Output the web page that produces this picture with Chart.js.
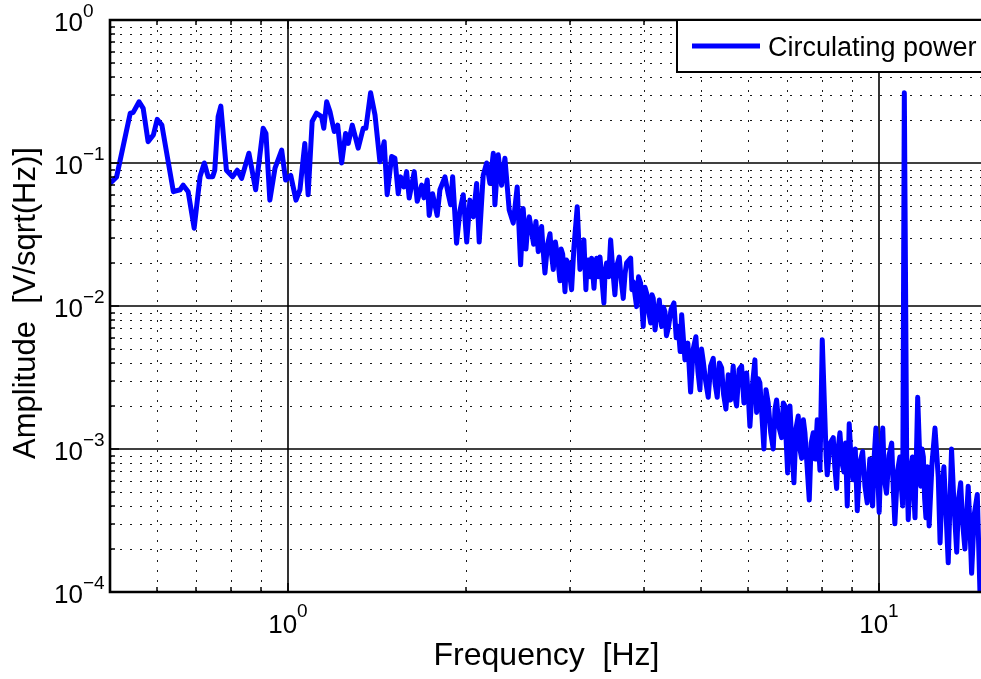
<!DOCTYPE html>
<html>
<head>
<meta charset="utf-8">
<title>Circulating power spectrum</title>
<script src="https://cdn.jsdelivr.net/npm/chart.js@4.4.1/dist/chart.umd.min.js"></script>
<style>
  html, body { margin: 0; padding: 0; background: #fff; overflow: hidden; }
  #wrap { position: absolute; left: 0; top: 0; width: 1000px; height: 679px; }
</style>
</head>
<body>
<div id="wrap"><canvas id="myChart" width="1000" height="679"></canvas></div>
<script>
// values
const seriesLabel = "Circulating power";
const xTitle = "Frequency  [Hz]";
const yTitle = "Amplitude  [V/sqrt(Hz)]";

const freqHz = [
  0.500, 0.513, 0.541, 0.547, 0.560, 0.569, 0.580, 0.592, 0.601, 0.612,
  0.640, 0.657, 0.665, 0.678, 0.694, 0.710, 0.722, 0.733, 0.746, 0.752,
  0.762, 0.770, 0.787, 0.806, 0.821, 0.835, 0.859, 0.882, 0.908, 0.918,
  0.932, 0.951, 0.976, 0.991, 1.011, 1.032, 1.048, 1.068, 1.082, 1.099,
  1.118, 1.140, 1.150, 1.163, 1.178, 1.198, 1.214, 1.233, 1.252, 1.265,
  1.285, 1.315, 1.341, 1.355, 1.380, 1.404, 1.431, 1.455, 1.472, 1.498,
  1.517, 1.537, 1.551, 1.571, 1.588, 1.604, 1.636, 1.655, 1.684, 1.699,
  1.721, 1.734, 1.757, 1.789, 1.808, 1.844, 1.867, 1.885, 1.900, 1.929,
  1.954, 1.980, 2.007, 2.032, 2.059, 2.086, 2.107, 2.140, 2.169, 2.197,
  2.226, 2.240, 2.269, 2.299, 2.329, 2.368, 2.406, 2.443, 2.476, 2.501,
  2.528, 2.545, 2.561, 2.585, 2.605, 2.628, 2.652, 2.670, 2.687, 2.700,
  2.722, 2.750, 2.776, 2.790, 2.812, 2.835, 2.860, 2.886, 2.900, 2.917,
  2.943, 2.960, 2.981, 3.000, 3.020, 3.048, 3.087, 3.120, 3.145, 3.168,
  3.193, 3.205, 3.222, 3.245, 3.265, 3.295, 3.310, 3.330, 3.350, 3.373,
  3.400, 3.425, 3.440, 3.461, 3.490, 3.516, 3.545, 3.575, 3.600, 3.636,
  3.665, 3.693, 3.720, 3.742, 3.801, 3.820, 3.840, 3.890, 3.920, 3.952,
  3.970, 3.992, 4.020, 4.045, 4.080, 4.110, 4.130, 4.151, 4.180, 4.206,
  4.250, 4.288, 4.320, 4.345, 4.370, 4.401, 4.450, 4.499, 4.540, 4.575,
  4.610, 4.637, 4.670, 4.697, 4.750, 4.801, 4.850, 4.901, 4.940, 4.979,
  5.010, 5.044, 5.090, 5.143, 5.190, 5.244, 5.280, 5.326, 5.370, 5.418,
  5.460, 5.510, 5.560, 5.610, 5.668, 5.700, 5.743, 5.800, 5.857, 5.910,
  5.971, 6.010, 6.049, 6.110, 6.168, 6.209, 6.250, 6.289, 6.340, 6.388,
  6.440, 6.496, 6.560, 6.625, 6.670, 6.712, 6.780, 6.845, 6.890, 6.934,
  6.970, 7.007, 7.040, 7.070, 7.120, 7.181, 7.240, 7.303, 7.350, 7.400,
  7.450, 7.496, 7.560, 7.623, 7.680, 7.742, 7.800, 7.864, 7.947, 8.019,
  8.103, 8.140, 8.176, 8.270, 8.370, 8.420, 8.481, 8.530, 8.590, 8.660,
  8.726, 8.780, 8.839, 8.907, 8.970, 9.047, 9.120, 9.191, 9.280, 9.385,
  9.470, 9.555, 9.650, 9.757, 9.820, 9.883, 9.950, 10.01, 10.08, 10.15,
  10.22, 10.30, 10.40, 10.51, 10.58, 10.64, 10.75, 10.85, 10.91, 10.97,
  11.04, 11.14, 11.21, 11.30, 11.40, 11.45, 11.51, 11.63, 11.77, 11.83,
  11.89, 11.95, 12.01, 12.08, 12.16, 12.30, 12.44, 12.60, 12.69, 12.78,
  12.88, 12.99, 13.10, 13.27, 13.40, 13.54, 13.64, 13.75, 13.86, 13.98,
  14.16, 14.25, 14.35, 14.50, 14.67, 14.82, 15.00
];

const amplitude = [
  0.072, 0.080, 0.223, 0.225, 0.268, 0.241, 0.141, 0.157, 0.202, 0.184,
  0.063, 0.065, 0.070, 0.063, 0.035, 0.080, 0.100, 0.080, 0.080, 0.089,
  0.211, 0.250, 0.089, 0.080, 0.089, 0.078, 0.117, 0.065, 0.175, 0.161,
  0.055, 0.092, 0.123, 0.076, 0.082, 0.055, 0.065, 0.137, 0.060, 0.195,
  0.223, 0.211, 0.175, 0.268, 0.229, 0.166, 0.184, 0.100, 0.161, 0.137,
  0.184, 0.127, 0.175, 0.175, 0.310, 0.217, 0.102, 0.141, 0.060, 0.111,
  0.108, 0.061, 0.080, 0.068, 0.087, 0.057, 0.087, 0.054, 0.070, 0.057,
  0.076, 0.043, 0.061, 0.043, 0.065, 0.080, 0.061, 0.051, 0.080, 0.0275,
  0.046, 0.060, 0.028, 0.055, 0.042, 0.072, 0.028, 0.082, 0.100, 0.072,
  0.117, 0.051, 0.114, 0.070, 0.108, 0.047, 0.038, 0.068, 0.0194, 0.048,
  0.025, 0.036, 0.042, 0.033, 0.027, 0.039, 0.024, 0.031, 0.036, 0.026,
  0.017, 0.027, 0.032, 0.024, 0.018, 0.028, 0.022, 0.015, 0.025, 0.023,
  0.0126, 0.021, 0.020, 0.016, 0.013, 0.026, 0.0495, 0.018, 0.024, 0.029,
  0.013, 0.019, 0.021, 0.016, 0.0216, 0.0133, 0.018, 0.0216, 0.016, 0.022,
  0.015, 0.0105, 0.017, 0.020, 0.016, 0.029, 0.018, 0.012, 0.019, 0.022,
  0.015, 0.0113, 0.017, 0.020, 0.0216, 0.013, 0.0148, 0.0099, 0.0160, 0.0144,
  0.0105, 0.0072, 0.0135, 0.0123, 0.0090, 0.0076, 0.0120, 0.0113, 0.0068, 0.0084,
  0.0110, 0.0072, 0.0098, 0.0091, 0.0062, 0.0070, 0.0095, 0.0105, 0.0060, 0.0072,
  0.0048, 0.0087, 0.0058, 0.0042, 0.0055, 0.0025, 0.0050, 0.0061, 0.0035, 0.0026,
  0.0050, 0.0041, 0.0030, 0.0023, 0.0038, 0.0043, 0.0029, 0.0023, 0.0040, 0.0037,
  0.0024, 0.0019, 0.0033, 0.0022, 0.0038, 0.0024, 0.0020, 0.0036, 0.0038, 0.0021,
  0.0034, 0.0024, 0.00144, 0.0028, 0.0042, 0.0018, 0.0031, 0.0029, 0.0017, 0.0010,
  0.0026, 0.0021, 0.0013, 0.0010, 0.0019, 0.0022, 0.0014, 0.0012, 0.0021, 0.0020,
  0.0011, 0.00068, 0.0016, 0.0020, 0.0011, 0.00058, 0.0014, 0.0017, 0.0010, 0.00086,
  0.0016, 0.0013, 0.00075, 0.00044, 0.0011, 0.0013, 0.00085, 0.0016, 0.00071, 0.0058,
  0.0016, 0.0009, 0.00066, 0.0011, 0.0012, 0.00075, 0.00053, 0.0010, 0.0013, 0.00080,
  0.00069, 0.0011, 0.00040, 0.0015, 0.00085, 0.00061, 0.0010, 0.00037, 0.00080, 0.00096,
  0.00055, 0.00042, 0.00085, 0.00040, 0.0009, 0.0014, 0.00070, 0.00036, 0.0009, 0.0014,
  0.00060, 0.00049, 0.00090, 0.0011, 0.00050, 0.00030, 0.00070, 0.00088, 0.00055, 0.00040,
  0.31, 0.00093, 0.00032, 0.00070, 0.00088, 0.00050, 0.00033, 0.0023, 0.00055, 0.0010,
  0.00088, 0.00045, 0.00033, 0.00075, 0.00029, 0.00080, 0.0014, 0.00064, 0.00022, 0.00050,
  0.00075, 0.00035, 0.00016, 0.0010, 0.00040, 0.00019, 0.00045, 0.00058, 0.00030, 0.00020,
  0.00055, 0.00030, 0.000135, 0.00035, 0.00048, 0.000103, 0.00017
];

const xMajorTicks = [1, 10];
const yMajorTicks = [1, 0.1, 0.01, 0.001, 0.0001];

const FONT = '"Liberation Sans", Arial, Helvetica, sans-serif';

function minorValues(majors, lo, hi) {
  const out = [];
  majors.forEach((m) => {
    for (let k = 2; k <= 9; k++) {
      const v = m * k;
      if (v > lo && v < hi) out.push(v);
    }
  });
  return out;
}

function expText(v) {
  const e = Math.round(Math.log10(v));
  return e < 0 ? "\u2212" + -e : String(e);
}

const matlabAxes = {
  id: "matlabAxes",
  beforeDatasetsDraw(chart) {
    const { ctx, chartArea: a, scales } = chart;
    const x = scales.x, y = scales.y;
    ctx.save();
    ctx.fillStyle = "#fff";
    ctx.fillRect(a.left, a.top, a.right - a.left, a.bottom - a.top);

    // dotted minor grid
    ctx.strokeStyle = "#1a1a1a";
    ctx.lineWidth = 1;
    ctx.setLineDash([2, 8]);
    minorValues([0.1, 1, 10], x.min, x.max).forEach((v) => {
      const px = Math.round(x.getPixelForValue(v)) + 0.5;
      ctx.beginPath(); ctx.moveTo(px, a.top); ctx.lineTo(px, a.bottom); ctx.stroke();
    });
    minorValues([0.0001, 0.001, 0.01, 0.1], y.min, y.max).forEach((v) => {
      const py = Math.round(y.getPixelForValue(v)) + 0.5;
      ctx.beginPath(); ctx.moveTo(a.left, py); ctx.lineTo(a.right, py); ctx.stroke();
    });

    // solid major grid
    ctx.setLineDash([]);
    ctx.strokeStyle = "#000";
    ctx.lineWidth = 1.6;
    xMajorTicks.forEach((v) => {
      const px = Math.round(x.getPixelForValue(v));
      ctx.beginPath(); ctx.moveTo(px, a.top); ctx.lineTo(px, a.bottom); ctx.stroke();
    });
    yMajorTicks.forEach((v) => {
      const py = Math.round(y.getPixelForValue(v));
      ctx.beginPath(); ctx.moveTo(a.left, py); ctx.lineTo(a.right, py); ctx.stroke();
    });
    ctx.restore();
  },
  afterDatasetsDraw(chart) {
    const { ctx, chartArea: a, scales } = chart;
    const x = scales.x, y = scales.y;
    ctx.save();

    // frame
    ctx.strokeStyle = "#000";
    ctx.lineWidth = 2.6;
    ctx.beginPath();
    ctx.moveTo(a.right + 5, a.top);
    ctx.lineTo(a.left, a.top);
    ctx.lineTo(a.left, a.bottom);
    ctx.lineTo(a.right + 5, a.bottom);
    ctx.stroke();

    // tick marks (inside)
    ctx.lineWidth = 1.5;
    const tickX = (v, len) => {
      const px = Math.round(x.getPixelForValue(v));
      ctx.beginPath(); ctx.moveTo(px, a.bottom); ctx.lineTo(px, a.bottom - len); ctx.stroke();
      ctx.beginPath(); ctx.moveTo(px, a.top); ctx.lineTo(px, a.top + len); ctx.stroke();
    };
    const tickY = (v, len) => {
      const py = Math.round(y.getPixelForValue(v));
      ctx.beginPath(); ctx.moveTo(a.left, py); ctx.lineTo(a.left + len, py); ctx.stroke();
    };
    minorValues([0.1, 1, 10], x.min, x.max).forEach((v) => tickX(v, 5));
    xMajorTicks.forEach((v) => tickX(v, 9));
    minorValues([0.0001, 0.001, 0.01, 0.1], y.min, y.max).forEach((v) => tickY(v, 5));
    yMajorTicks.forEach((v) => tickY(v, 9));

    // tick labels 10^n
    ctx.fillStyle = "#000";
    ctx.textBaseline = "alphabetic";
    yMajorTicks.forEach((v) => {
      const py = y.getPixelForValue(v);
      ctx.font = "26px " + FONT;
      ctx.textAlign = "right";
      ctx.fillText("10", 83, py + 10.5);
      ctx.font = "19px " + FONT;
      ctx.textAlign = "left";
      ctx.fillText(expText(v), 83, py - 3);
    });
    xMajorTicks.forEach((v) => {
      const px = x.getPixelForValue(v);
      ctx.font = "26px " + FONT;
      const w10 = ctx.measureText("10").width;
      ctx.font = "19px " + FONT;
      const we = ctx.measureText(expText(v)).width;
      const start = px - (w10 + we) / 2;
      ctx.textAlign = "left";
      ctx.font = "26px " + FONT;
      ctx.fillText("10", start, 633);
      ctx.font = "19px " + FONT;
      ctx.fillText(expText(v), start + w10, 617);
    });

    // axis titles
    ctx.textAlign = "center";
    ctx.font = "32px " + FONT;
    ctx.fillText(xTitle, (a.left + a.right) / 2, 665);
    ctx.save();
    ctx.font = "31px " + FONT;
    ctx.translate(35, (a.top + a.bottom) / 2 - 3);
    ctx.rotate(-Math.PI / 2);
    ctx.fillText(yTitle, 0, 0);
    ctx.restore();

    // legend box
    const ds = chart.data.datasets[0];
    ctx.fillStyle = "#fff";
    ctx.fillRect(677, 20, 330, 52);
    ctx.strokeStyle = "#000";
    ctx.lineWidth = 2;
    ctx.strokeRect(677, 20, 330, 52);
    ctx.strokeStyle = ds.borderColor;
    ctx.lineWidth = 5;
    ctx.beginPath(); ctx.moveTo(692, 46); ctx.lineTo(760, 46); ctx.stroke();
    ctx.fillStyle = "#000";
    ctx.font = "27px " + FONT;
    ctx.textAlign = "left";
    ctx.fillText(ds.label, 768, 56);
    ctx.restore();
  }
};

const points = freqHz.map((f, i) => ({ x: f, y: amplitude[i] }));

const myChart = new Chart(document.getElementById("myChart").getContext("2d"), {
  type: "line",
  data: {
    datasets: [
      {
        label: seriesLabel,
        data: points,
        borderColor: "#0000ff",
        borderWidth: 5,
        borderJoinStyle: "round",
        borderCapStyle: "round",
        pointRadius: 0,
        tension: 0,
        fill: false,
      },
    ],
  },
  options: {
    responsive: false,
    animation: false,
    devicePixelRatio: 1,
    layout: { padding: { left: 110, top: 20, right: 17, bottom: 87 } },
    plugins: { legend: { display: false }, tooltip: { enabled: false } },
    scales: {
      x: { type: "logarithmic", min: 0.5, max: 15, display: false },
      y: { type: "logarithmic", min: 0.0001, max: 1, display: false },
    },
  },
  plugins: [matlabAxes],
});
</script>
</body>
</html>
